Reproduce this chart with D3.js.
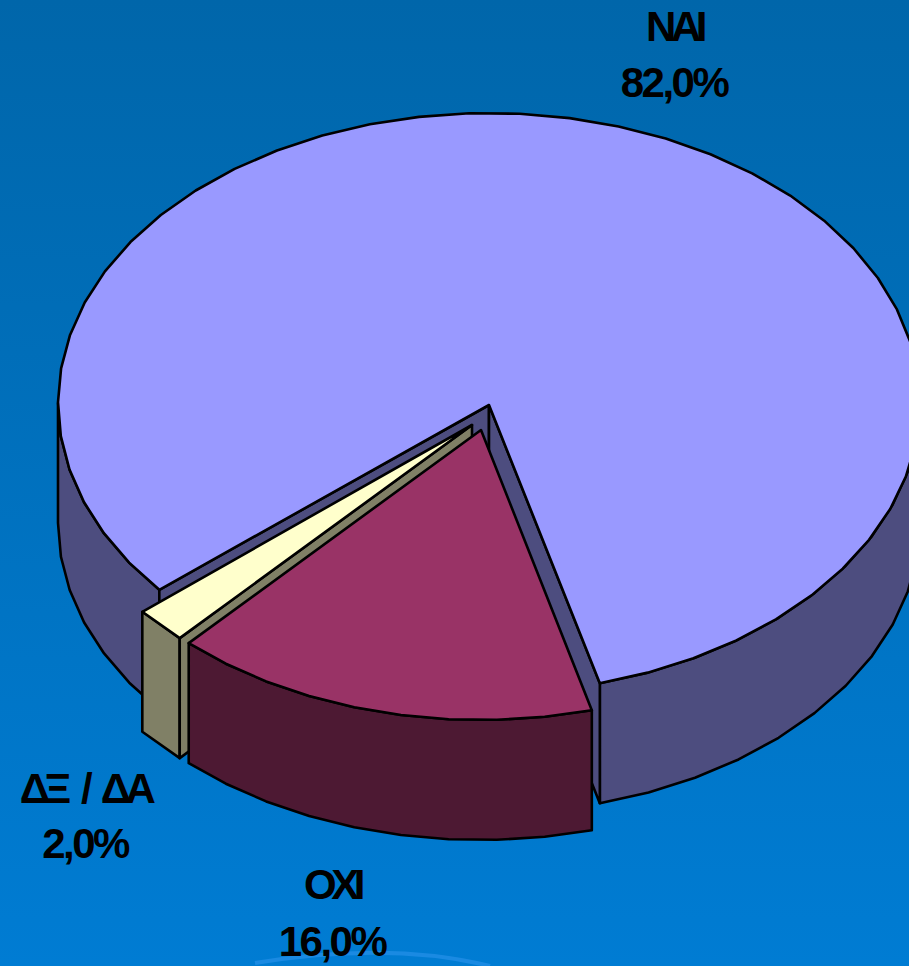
<!DOCTYPE html>
<html><head><meta charset="utf-8">
<style>html,body{margin:0;padding:0;background:#0070bb}svg{display:block}
text{font-family:"Liberation Sans",Arial,sans-serif;font-weight:700;fill:#000;text-anchor:middle}</style>
<script src="https://cdnjs.cloudflare.com/ajax/libs/d3/7.8.5/d3.min.js"></script>
</head><body><svg id="c" width="909" height="966"></svg>
<script>
const categories=["ΝΑΙ","ΟΧΙ","ΔΞ / ΔΑ"];
const values=[82,16,2];
const valueLabels=["82,0%","16,0%","2,0%"];
const topColors=["#9999ff","#993366","#ffffcc"];
const sideColors=["#4d4d7f","#4d1933","#808066"];

const W=909,H=966,rx=431,ry=290,depth=120,cx=489,cy=403;
const explode=[[0,0],[-8,27],[-17,22]];
const apexDrop=[2,0,0];
const labelAt=[[675,41,97],[333,899,956],[86,803,858]];
const svg=d3.select("#c");
const defs=svg.append("defs");
const g=defs.append("linearGradient").attr("id","bg").attr("x1",0).attr("x2",0).attr("y1",0).attr("y2",1);
g.append("stop").attr("offset",0).attr("stop-color","#0066aa");
g.append("stop").attr("offset",1).attr("stop-color","#007cd3");
svg.append("rect").attr("width",W).attr("height",H).attr("fill","url(#bg)");
svg.append("path").attr("d","M255,963Q390,941 490,966").attr("fill","none").attr("stroke","#1a8ae2").attr("stroke-width",4);

const tau=2*Math.PI,start=229.9/360*tau;
const arcs=d3.pie().sort(null).value(d=>d).startAngle(start).endAngle(start+tau)(values);
const xS=d3.scaleLinear().domain([-1,1]).range([-rx,rx]);
const yS=d3.scaleLinear().domain([-1,1]).range([-ry,ry]);
const line=d3.line();
const pt=(a,i,dz=0)=>[cx+explode[i][0]+xS(Math.sin(a)),cy+explode[i][1]-yS(Math.cos(a))+dz];
const apex=(i,dz=0)=>[cx+explode[i][0],cy+explode[i][1]+apexDrop[i]+dz];
const rimPts=(a0,a1,i,dz=0)=>{const n=Math.max(1,Math.round((a1-a0)/(tau/54)));return d3.range(n+1).map(k=>pt(a0+(a1-a0)*k/n,i,dz));};
const draw=(pts,fill,w=2.6)=>svg.append("path").attr("d",line(pts)+"Z").attr("fill",fill).attr("stroke","#000").attr("stroke-width",w).attr("stroke-linejoin","round");
const wall=(a,i,c)=>draw([apex(i),pt(a,i),pt(a,i,depth),apex(i,depth)],c);
const outer=(a0,a1,i,c)=>{
  for(let k=-1;k<3;k++){const f0=tau/4+k*tau,f1=3*tau/4+k*tau,s=Math.max(a0,f0),e=Math.min(a1,f1);
    if(e>s){const top=rimPts(s,e,i),bot=rimPts(s,e,i,depth).reverse();draw(top.concat(bot),c);}}
};
const topFace=(d,i)=>draw([apex(i)].concat(rimPts(d.startAngle,d.endAngle,i)),topColors[i]);

const a=arcs[0];
outer(a.startAngle,a.endAngle,0,sideColors[0]);
wall(a.startAngle,0,sideColors[0]);
wall(a.endAngle,0,sideColors[0]);
topFace(a,0);
const c=arcs[2];
outer(c.startAngle,c.endAngle,2,sideColors[2]);
wall(c.startAngle,2,sideColors[2]);
topFace(c,2);
const b=arcs[1];
outer(b.startAngle,b.endAngle,1,sideColors[1]);
topFace(b,1);

categories.forEach((t,i)=>{
  svg.append("text").attr("x",labelAt[i][0]-1).attr("y",labelAt[i][1]).attr("font-size",42).attr("letter-spacing",-5.5).attr("word-spacing",9).text(t);
  svg.append("text").attr("x",labelAt[i][0]-1).attr("y",labelAt[i][2]).attr("font-size",42).attr("letter-spacing",-2.5).text(valueLabels[i]);
});
</script></body></html>
